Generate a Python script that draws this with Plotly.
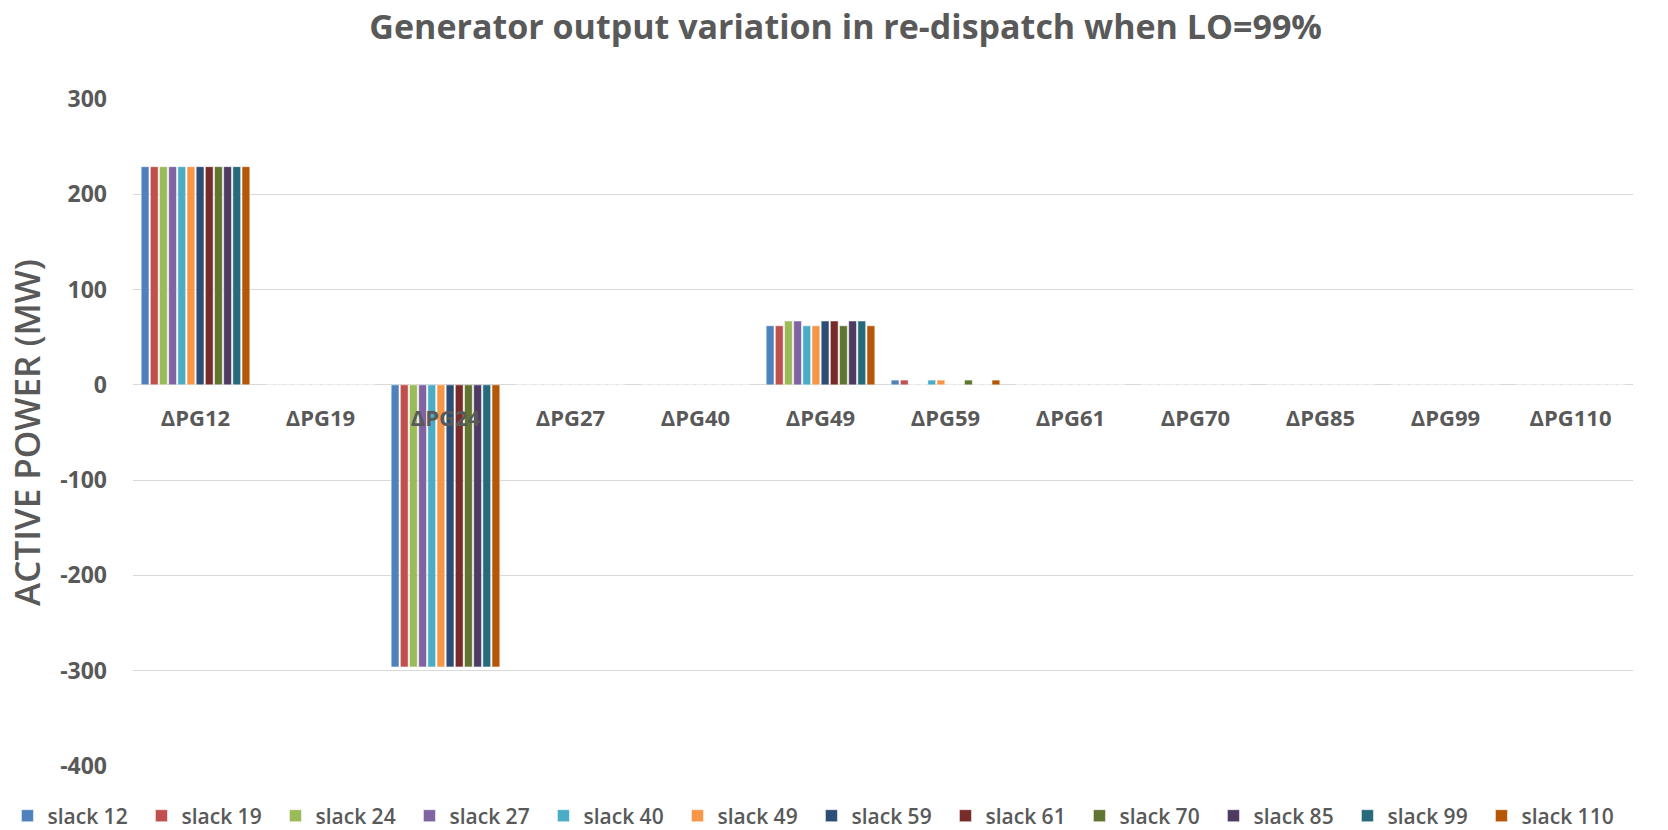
import plotly.graph_objects as go

categories = ['ΔPG12', 'ΔPG19', 'ΔPG24', 'ΔPG27', 'ΔPG40', 'ΔPG49',
              'ΔPG59', 'ΔPG61', 'ΔPG70', 'ΔPG85', 'ΔPG99', 'ΔPG110']

slack_12 = [229, 0, -296, 0, 0, 62, 5, 0, 0, 0, 0, 0]
slack_19 = [229, 0, -296, 0, 0, 62, 5, 0, 0, 0, 0, 0]
slack_24 = [229, 0, -296, 0, 0, 67, 0, 0, 0, 0, 0, 0]
slack_27 = [229, 0, -296, 0, 0, 67, 0, 0, 0, 0, 0, 0]
slack_40 = [229, 0, -296, 0, 0, 62, 5, 0, 0, 0, 0, 0]
slack_49 = [229, 0, -296, 0, 0, 62, 5, 0, 0, 0, 0, 0]
slack_59 = [229, 0, -296, 0, 0, 67, 0, 0, 0, 0, 0, 0]
slack_61 = [229, 0, -296, 0, 0, 67, 0, 0, 0, 0, 0, 0]
slack_70 = [229, 0, -296, 0, 0, 62, 5, 0, 0, 0, 0, 0]
slack_85 = [229, 0, -296, 0, 0, 67, 0, 0, 0, 0, 0, 0]
slack_99 = [229, 0, -296, 0, 0, 67, 0, 0, 0, 0, 0, 0]
slack_110 = [229, 0, -296, 0, 0, 62, 5, 0, 0, 0, 0, 0]

y_ticks = [-400, -300, -200, -100, 0, 100, 200, 300]
y_labels = ['-400', '-300', '-200', '-100', '0', '100', '200', '300']

series = [
    ('slack 12', slack_12, '#4F81BD'),
    ('slack 19', slack_19, '#C0504D'),
    ('slack 24', slack_24, '#9BBB59'),
    ('slack 27', slack_27, '#8064A2'),
    ('slack 40', slack_40, '#4BACC6'),
    ('slack 49', slack_49, '#F79646'),
    ('slack 59', slack_59, '#2C4D75'),
    ('slack 61', slack_61, '#772C2A'),
    ('slack 70', slack_70, '#5F7530'),
    ('slack 85', slack_85, '#4D3B62'),
    ('slack 99', slack_99, '#276A7C'),
    ('slack 110', slack_110, '#B65708'),
]

fig = go.Figure()
for name, vals, color in series:
    fig.add_trace(go.Bar(x=categories, y=vals, name=name, marker_color=color))

grey = '#595959'
ymin, ymax = -400, 300

fig.update_layout(
    width=1668, height=830,
    template='plotly_white',
    barmode='group', bargap=0.12, bargroupgap=0.15,
    margin=dict(l=133, r=35, t=99, b=64, autoexpand=False),
    title=dict(text='<b>Generator output variation in re-dispatch when LO=99%</b>',
               xref='container', x=0.507, xanchor='center',
               yref='container', y=1 - 27 / 830, yanchor='middle',
               font=dict(family='Open Sans', size=34, color=grey)),
    font=dict(family='Open Sans', color=grey),
    legend=dict(orientation='h', x=-0.0837, xanchor='left',
                y=-0.075, yanchor='middle',
                font=dict(family='Open Sans', size=21, color=grey, weight=600),
                entrywidth=89, itemwidth=30, traceorder='normal'),
    plot_bgcolor='white', paper_bgcolor='white',
)

fig.update_xaxes(
    anchor='free', position=(0 - ymin) / (ymax - ymin),
    showgrid=False, showline=False, ticks='', automargin=False,
    ticklabelstandoff=18,
    tickfont=dict(family='Open Sans', size=22, color=grey, weight='bold'),
)

fig.update_yaxes(
    range=[ymin, ymax], tickvals=y_ticks, ticktext=y_labels,
    showgrid=True, gridcolor='#D9D9D9', gridwidth=1,
    zeroline=True, zerolinecolor='#D9D9D9', zerolinewidth=1,
    ticks='', ticklabelstandoff=25, automargin=False,
    tickfont=dict(family='Open Sans', size=23, color=grey, weight='bold'),
    title=dict(text='ACTIVE POWER (MW)', standoff=8,
               font=dict(family='Open Sans', size=35, color=grey, weight=600)),
)

# page body has a default 8px margin; drop it so the figure sits at the corner
fig.write_html('out.html', config={'displayModeBar': False},
               post_script="document.body.style.margin='0px';")
